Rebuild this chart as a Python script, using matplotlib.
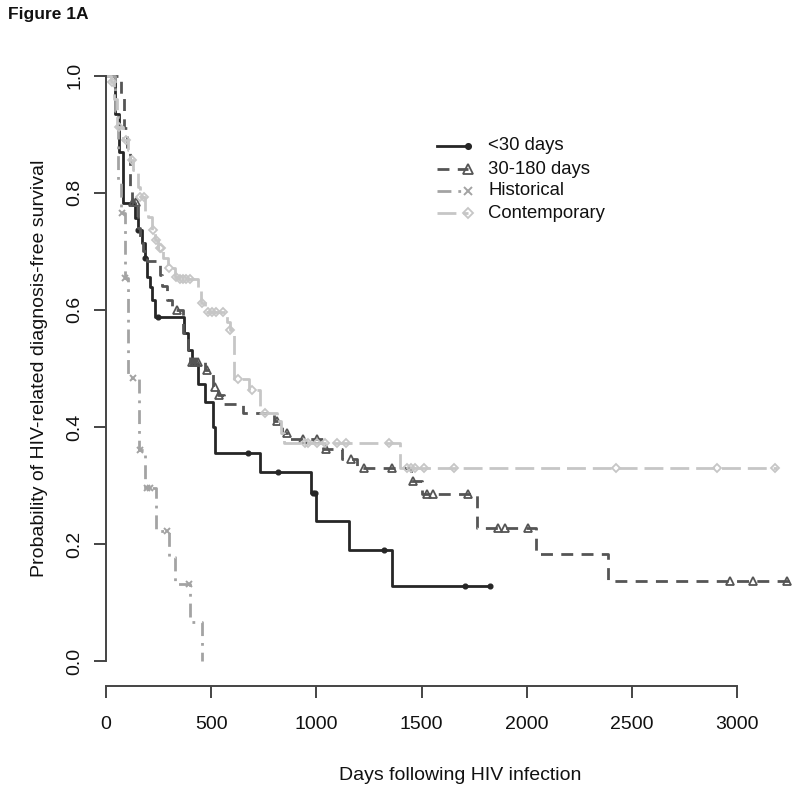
import numpy as np
import matplotlib
matplotlib.use("Agg")
import matplotlib.pyplot as plt

plt.rcParams["font.family"] = ["Liberation Sans", "DejaVu Sans"]

# Kaplan-Meier step data (days, survival probability)
lt30_time = [0, 45, 60, 82, 138, 150, 170, 185, 193, 209, 220, 233, 372, 391, 407,
             439, 470, 508, 516, 732, 973, 998, 1155, 1358, 1825]
lt30_surv = [1.0, 0.935, 0.87, 0.782, 0.757, 0.736, 0.714, 0.688, 0.656, 0.639, 0.617,
             0.587, 0.560, 0.531, 0.508, 0.474, 0.443, 0.40, 0.355, 0.323, 0.287, 0.239,
             0.190, 0.128, 0.128]
lt30_cens = [150, 185, 245, 676, 816, 985, 992, 1322, 1706, 1825]

m30_time = [0, 70, 86, 100, 114, 125, 150, 160, 175, 193, 257, 265, 288, 315, 364, 388,
            400, 470, 510, 530, 560, 653, 800, 835, 870, 1033, 1120, 1191, 1450, 1500,
            1762, 2042, 2387, 3251]
m30_surv = [1.0, 0.965, 0.91, 0.87, 0.81, 0.785, 0.74, 0.72, 0.70, 0.684, 0.66, 0.64,
            0.617, 0.60, 0.56, 0.53, 0.511, 0.498, 0.468, 0.454, 0.439, 0.424, 0.41,
            0.39, 0.38, 0.363, 0.346, 0.329, 0.308, 0.286, 0.228, 0.182, 0.136, 0.136]
m30_cens = [130, 141, 336, 410, 420, 430, 439, 482, 518, 539, 811, 858, 938, 1001, 1046,
            1163, 1226, 1361, 1461, 1524, 1556, 1722, 1865, 1896, 2007, 2966, 3073, 3238]

hist_time = [0, 45, 58, 70, 90, 105, 155, 185, 236, 301, 328, 399, 455]
hist_surv = [1.0, 0.94, 0.82, 0.765, 0.655, 0.484, 0.361, 0.295, 0.222, 0.178, 0.132,
             0.067, 0.0]
hist_cens = [75, 92, 128, 162, 195, 209, 288, 394]

cont_time = [0, 25, 40, 51, 82, 106, 114, 130, 154, 162, 185, 201, 217, 233, 249, 272,
             296, 328, 345, 437, 450, 470, 575, 589, 608, 680, 732, 811, 830, 845, 1397,
             3188]
cont_surv = [1.0, 0.99, 0.96, 0.913, 0.89, 0.873, 0.856, 0.839, 0.81, 0.793, 0.768,
             0.759, 0.736, 0.719, 0.705, 0.688, 0.671, 0.656, 0.652, 0.633, 0.611, 0.597,
             0.580, 0.565, 0.481, 0.463, 0.423, 0.41, 0.39, 0.372, 0.330, 0.330]
cont_cens = [30, 60, 95, 125, 162, 180, 222, 240, 255, 262, 300, 335, 350, 365, 380, 400,
             454, 485, 505, 525, 556, 589, 629, 692, 755, 946, 960, 1001, 1041, 1096,
             1139, 1346, 1429, 1450, 1469, 1511, 1654, 2422, 2902, 3180]

labels = ["<30 days", "30-180 days", "Historical", "Contemporary"]

x_ticks = [0, 500, 1000, 1500, 2000, 2500, 3000]
y_ticks = [0.0, 0.2, 0.4, 0.6, 0.8, 1.0]


def surv_at(times, surv, t):
    # value of the step curve at time t
    idx = np.searchsorted(times, t, side="right") - 1
    return np.asarray(surv)[idx]


fig = plt.figure(figsize=(8.0, 7.94), dpi=100)
ax = fig.add_axes([0.1246, 0.1364, 0.8758, 0.7903])

series = [
    (lt30_time, lt30_surv, lt30_cens,
     dict(color="#262626", ls="-", marker="o", ms=3.4, mfc="#262626", mec="#262626", mew=1.0)),
    (m30_time, m30_surv, m30_cens,
     dict(color="#555555", ls=(0, (4.3, 3.0)), marker="^", ms=6.0, mfc="none", mec="#555555", mew=1.3)),
    (hist_time, hist_surv, hist_cens,
     dict(color="#a3a3a3", ls=(0, (5, 2.5, 1, 2.5)), marker="x", ms=5.0, mfc="none", mec="#a3a3a3", mew=1.4)),
    (cont_time, cont_surv, cont_cens,
     dict(color="#c6c6c6", ls=(0, (6.8, 2.5)), marker="D", ms=4.5, mfc="none", mec="#c6c6c6", mew=1.3)),
]

for t, s, c, st in series:
    ax.step(t, s, where="post", color=st["color"], linestyle=st["ls"], linewidth=2.0,
            clip_on=False)
    ax.plot(c, surv_at(t, s, c), linestyle="none", marker=st["marker"], ms=st["ms"],
            mfc=st["mfc"], mec=st["mec"], mew=st["mew"], clip_on=False)

# legend drawn by hand: short line with the marker at its right end
leg_x0, leg_x1, leg_tx = 0.4817, 0.5259, 0.5544
leg_rows = [0.8601, 0.8230, 0.7889, 0.7529]
for (t, s, c, st), lab, ly in zip(series, labels, leg_rows):
    ax.plot([leg_x0, leg_x1], [ly, ly], transform=ax.transAxes, color=st["color"],
            linestyle=st["ls"], linewidth=2.0, clip_on=False)
    ax.plot([leg_x1], [ly], transform=ax.transAxes, linestyle="none", marker=st["marker"],
            ms=st["ms"] * 1.2, mfc=st["mfc"], mec=st["mec"], mew=st["mew"], clip_on=False)
    ax.text(leg_tx, ly, lab, transform=ax.transAxes, fontsize=13.3, va="center",
            ha="left", color="#111111")

ax.set_xlim(-30, 3300)
ax.set_ylim(-0.0422, 1.03)

for side in ["top", "right"]:
    ax.spines[side].set_visible(False)
ax.spines["left"].set_position(("data", 0))
ax.spines["left"].set_bounds(0, 1)
ax.spines["bottom"].set_bounds(0, 3000)
for side in ["left", "bottom"]:
    ax.spines[side].set_color("#444444")
    ax.spines[side].set_linewidth(1.4)

ax.set_xticks(x_ticks)
ax.set_xticklabels([str(v) for v in x_ticks])
ax.set_yticks(y_ticks)
ax.set_yticklabels([f"{v:.1f}" for v in y_ticks], rotation=90, va="center")
ax.tick_params(axis="both", direction="out", length=8.5, width=1.4, color="#444444",
               labelsize=14, labelcolor="#111111")
ax.tick_params(axis="x", pad=13)
ax.tick_params(axis="y", pad=8)

fig.text(40 / 800, 1 - 368 / 794, "Probability of HIV-related diagnosis-free survival",
         rotation=90, ha="center", va="center", fontsize=14, color="#111111")
fig.text(460 / 800, 1 - 776 / 794, "Days following HIV infection",
         ha="center", va="center", fontsize=14, color="#111111")
fig.text(8 / 800, 1 - 15 / 794, "Figure 1A", ha="left", va="center", fontsize=12.5,
         fontweight="bold", color="#111111")

fig.savefig("out.png", dpi=100)
